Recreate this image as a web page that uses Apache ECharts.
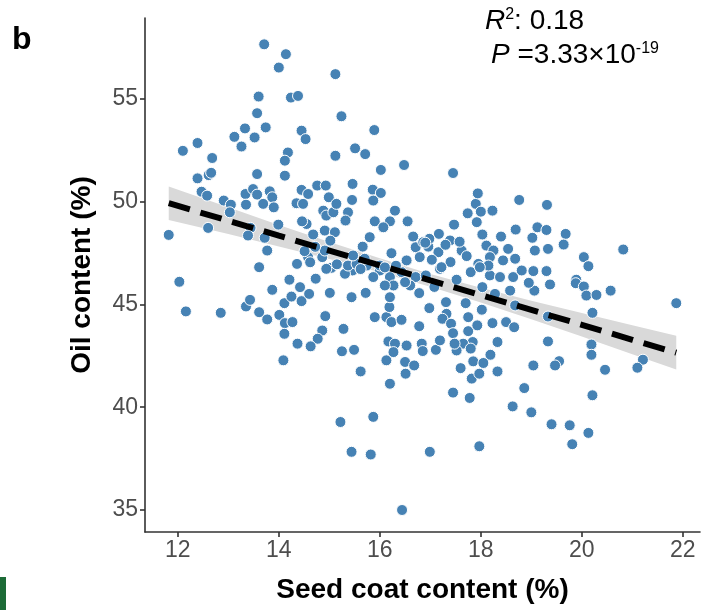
<!DOCTYPE html>
<html><head><meta charset="utf-8">
<script src="https://cdn.jsdelivr.net/npm/echarts@6/dist/echarts.min.js"></script>
<style>html,body{margin:0;padding:0;background:#fff}#c{width:702px;height:610px}</style>
</head><body><div id="c"></div>
<script>
// Seed coat content (%) and Oil content (%) of each accession
const seedCoat = [
13.71,14.14,14.00,15.12,13.60,14.24,14.38,13.57,15.24,13.33,13.74,13.12,13.52,13.26,14.45,14.53,12.39,12.10,12.68,14.18,14.12,15.12,13.57,14.12,12.39,12.61,12.66,12.47,12.58,12.91,13.05,13.03,13.34,13.49,13.57,13.82,13.87,13.69,13.35,13.90,14.45,14.58,14.35,14.48,14.76,14.93,14.99,14.88,14.94,15.08,15.14,14.55,14.46,14.68,14.91,15.11,13.99,13.44,13.39,13.72,12.60,11.82,13.77,14.58,14.51,14.36,13.61,14.86,14.91,15.04,14.94,14.21,12.03,14.73,
15.89,15.51,15.71,16.02,16.48,17.45,15.46,15.86,16.02,15.45,15.87,15.37,15.32,16.30,16.20,15.90,16.07,16.55,15.80,15.66,16.23,16.66,16.71,16.96,17.17,17.39,17.47,17.62,17.16,16.79,17.03,17.40,17.74,17.90,17.94,18.00,17.92,18.23,18.76,18.69,18.03,18.11,18.25,18.54,18.18,18.44,18.68,17.95,17.80,16.53,16.43,16.00,15.74,15.46,15.31,15.87,16.20,16.71,17.19,16.91,18.64,18.18,18.81,
19.31,19.12,19.30,19.02,19.68,19.64,19.07,19.33,20.04,20.13,20.82,19.04,19.30,19.89,
12.16,12.85,13.35,13.43,13.61,13.77,13.87,14.01,14.12,14.27,14.11,14.25,14.42,14.45,14.60,15.01,14.92,14.86,14.77,14.63,14.37,14.11,14.09,
15.28,15.25,15.49,15.44,15.72,15.62,15.22,15.87,15.44,15.82,16.99,17.97,16.44,16.20,16.13,16.50,16.51,16.68,16.17,16.30,16.27,16.53,16.83,16.85,15.90,16.13,16.23,16.43,16.19,16.20,16.27,16.10,16.60,16.78,16.78,16.98,17.11,17.19,17.31,17.32,17.24,17.41,17.45,17.70,17.75,17.75,17.84,17.65,17.52,17.60,17.85,17.82,17.97,17.78,17.45,18.02,18.23,18.50,18.66,18.33,18.19,18.05,18.33,18.86,18.63,19.00,18.28,18.58,18.68,18.03,
19.06,19.37,19.88,20.04,20.09,20.29,20.57,21.87,20.21,19.33,19.33,20.19,20.19,19.55,19.47,19.04,20.46,21.21,21.10,20.21,19.40,19.76,20.13,19.81,
16.98,16.86,17.22,18.15,18.38,16.50,17.93,17.48,17.80,17.98,15.37,15.54,16.00,15.47,15.70,15.15,15.62,16.10,16.32,17.30,17.58,17.72,18.40,16.90,17.08,17.52,18.95,14.72,15.02,14.62
];
const oilContent = [
57.65,57.17,56.52,56.20,55.11,55.06,55.14,54.30,54.15,53.56,53.61,53.15,53.12,52.68,53.45,53.04,52.85,52.47,52.12,52.39,51.99,52.23,51.34,51.26,51.13,51.29,51.40,50.48,50.29,50.05,49.85,49.48,50.37,50.61,50.34,50.50,50.21,49.89,49.85,49.72,50.57,50.37,49.92,49.89,50.78,50.78,50.21,49.56,49.32,49.48,49.89,48.91,49.04,48.40,48.59,48.51,48.88,48.72,48.35,48.24,48.72,48.38,47.62,47.30,47.59,46.97,46.81,47.30,47.62,46.78,46.73,46.20,46.10,46.25,
53.48,52.59,52.31,51.54,51.78,51.39,50.86,50.58,50.42,50.08,50.05,49.48,49.08,49.56,49.04,49.04,48.75,49.04,48.27,47.81,47.49,48.30,47.78,47.81,48.43,48.11,48.88,47.62,47.54,47.30,47.17,47.06,49.43,49.89,50.40,49.51,49.00,49.56,50.08,48.64,48.40,47.86,47.62,47.70,47.30,47.14,47.22,46.97,46.57,47.14,46.57,46.65,46.89,46.65,46.49,46.33,46.33,46.33,46.73,46.41,46.33,46.41,46.65,
49.84,48.75,48.62,48.24,48.43,47.91,47.62,47.70,47.30,46.86,47.67,46.62,46.62,46.20,
44.66,44.59,44.90,45.22,44.62,44.27,45.71,44.49,44.09,44.14,45.06,45.38,45.84,45.16,45.51,45.56,44.43,43.73,43.33,42.96,43.09,43.57,42.28,
43.81,42.72,42.79,45.35,45.56,41.74,39.28,39.53,37.83,37.70,37.83,38.10,35.00,41.14,42.28,42.20,41.63,42.03,43.20,43.09,42.68,43.00,43.09,42.73,44.38,44.38,44.14,44.25,44.87,45.35,45.92,45.92,45.92,45.55,43.94,44.82,42.79,43.25,45.11,44.54,44.30,44.06,43.60,45.06,44.38,43.70,43.17,43.09,42.76,41.90,42.23,41.39,41.63,40.45,40.71,44.74,44.09,44.14,43.89,43.17,42.55,42.15,41.74,40.93,40.04,39.75,45.51,45.67,44.95,45.84,
45.67,45.97,46.03,45.87,45.43,45.46,45.67,45.06,44.59,44.41,43.20,43.05,42.55,42.24,42.03,42.03,41.82,42.31,41.92,40.58,39.17,39.12,38.75,38.20,
48.19,48.03,46.81,46.89,46.33,46.08,43.98,43.09,42.85,46.81,46.89,46.97,46.89,47.38,47.22,46.95,46.72,46.80,46.88,47.90,48.05,47.35,48.30,48.00,45.85,46.20,46.05,47.80,48.10,47.05
];
// Linear fit and its 95% confidence band
const fitX    = [11.82, 13, 14, 15, 16, 17, 18, 19, 20, 21, 21.87];
const fitY    = [49.92, 49.07, 48.34, 47.62, 46.90, 46.17, 45.45, 44.73, 44.01, 43.28, 42.65];
const ciLower = [49.11, 48.42, 47.82, 47.21, 46.56, 45.86, 45.09, 44.28, 43.44, 42.58, 41.83];
const ciUpper = [50.73, 49.72, 48.86, 48.03, 47.24, 46.48, 45.81, 45.18, 44.58, 43.98, 43.47];
const xTicks = [12, 14, 16, 18, 20, 22];
const yTicks = [35, 40, 45, 50, 55];

const FONT = '"Liberation Sans", Arial, sans-serif';
const chart = echarts.init(document.getElementById('c'), null, {renderer: 'canvas'});
const axisCommon = {
  type: 'value', nameLocation: 'middle',
  nameTextStyle: {fontFamily: FONT, fontWeight: 'bold', fontSize: 28, color: '#000'},
  axisLine: {show: true, lineStyle: {color: '#333', width: 1.6}},
  splitLine: {show: false}
};
const supStyle = {fontFamily: FONT, fontSize: 16, color: '#222', verticalAlign: 'top', padding: [0, 0, 12, 0]};
chart.setOption({
  animation: false,
  backgroundColor: '#fff',
  grid: {left: 145, top: 18, right: 2, bottom: 78, containLabel: false, outerBoundsMode: 'none'},
  xAxis: Object.assign({}, axisCommon, {
    min: 11.35, max: 22.34, name: 'Seed coat content (%)', nameGap: 44,
    axisTick: {show: true, customValues: xTicks, length: 5, lineStyle: {color: '#333', width: 1.6}},
    axisLabel: {customValues: xTicks, fontFamily: FONT, fontSize: 23, color: '#4d4d4d', margin: 7}
  }),
  yAxis: Object.assign({}, axisCommon, {
    min: 33.93, max: 58.93, name: 'Oil content (%)', nameGap: 49,
    axisTick: {show: true, customValues: yTicks, length: 5, lineStyle: {color: '#333', width: 1.6}},
    axisLabel: {customValues: yTicks, fontFamily: FONT, fontSize: 23, color: '#4d4d4d', margin: 7}
  }),
  series: [
    {
      type: 'custom', z: 1, silent: true,
      data: fitX.map((x, i) => [x, ciLower[i], ciUpper[i]]),
      encode: {x: 0, y: [1, 2]},
      renderItem: function (params, api) {
        if (params.dataIndex !== 0) return null;
        const pts = [];
        for (let i = 0; i < fitX.length; i++) pts.push(api.coord([fitX[i], ciUpper[i]]));
        for (let i = fitX.length - 1; i >= 0; i--) pts.push(api.coord([fitX[i], ciLower[i]]));
        return {type: 'polygon', shape: {points: pts}, style: {fill: '#d9d9d9'}};
      }
    },
    {
      type: 'scatter', z: 2,
      data: seedCoat.map((x, i) => [x, oilContent[i]]),
      symbolSize: 11,
      itemStyle: {color: '#4682b4', borderColor: '#ffffff', borderWidth: 1, opacity: 1}
    },
    {
      type: 'line', z: 3, symbol: 'none',
      data: fitX.map((x, i) => [x, fitY[i]]),
      lineStyle: {color: '#000', width: 6, type: [22, 11], cap: 'butt'}
    }
  ],
  graphic: [
    {type: 'text', left: 12, top: 24, style: {text: 'b', font: 'bold 32px ' + FONT, fill: '#000'}},
    {type: 'text', left: 485, top: 7, style: {
      text: '{i|R}{s|2}{n|: 0.18}',
      rich: {
        i: {fontFamily: FONT, fontStyle: 'italic', fontSize: 28, color: '#222'},
        s: supStyle,
        n: {fontFamily: FONT, fontSize: 28, color: '#222'}
      }}},
    {type: 'text', left: 491, top: 41, style: {
      text: '{i|P}{n| =3.33×10}{s|-19}',
      rich: {
        i: {fontFamily: FONT, fontStyle: 'italic', fontSize: 28, color: '#222'},
        s: supStyle,
        n: {fontFamily: FONT, fontSize: 28, color: '#222'}
      }}},
    {type: 'rect', left: 0, top: 577, shape: {width: 6, height: 33}, style: {fill: '#1d6b37'}}
  ]
});
</script></body></html>
